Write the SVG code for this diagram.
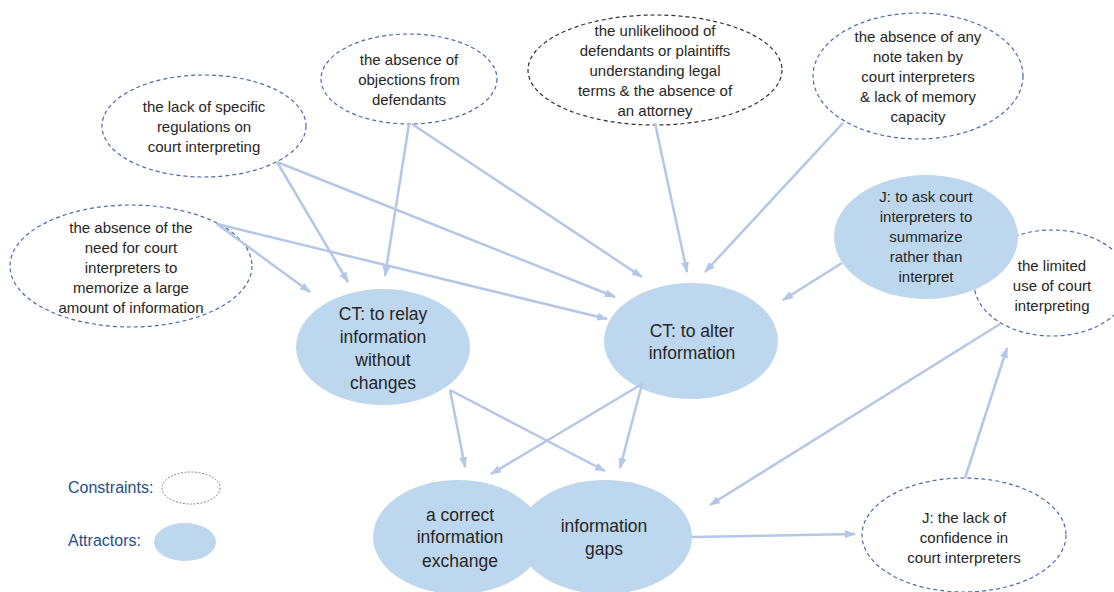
<svg xmlns="http://www.w3.org/2000/svg" width="1114" height="592" viewBox="0 0 1114 592">
<style>
.c{fill:#ffffff;stroke:#4a6cab;stroke-width:1.2;stroke-dasharray:4 3}
.k{fill:#ffffff;stroke:#333333;stroke-width:1.2;stroke-dasharray:4 3}
.a{fill:#bdd7ee;stroke:none}
.t{font-family:"Liberation Sans",Arial,sans-serif;font-size:15px;fill:#262626;text-anchor:middle}
.b{font-family:"Liberation Sans",Arial,sans-serif;font-size:17.5px;fill:#262626;text-anchor:middle}
.l{font-family:"Liberation Sans",Arial,sans-serif;font-size:16px;fill:#1f4e8c}
.e line{stroke:#b4c7e7;stroke-width:2.5;marker-end:url(#ah)}
</style>
<defs>
<marker id="ah" markerWidth="12" markerHeight="10" refX="10" refY="4" orient="auto" markerUnits="userSpaceOnUse">
<path d="M0,0 L11,4 L0,8 Z" fill="#b4c7e7"/>
</marker>
</defs>
<rect width="1114" height="592" fill="#ffffff"/>

<g id="n-limited-use">
<ellipse class="c" cx="1052" cy="283" rx="78" ry="53"/>
<text class="t" x="1052" y="271">the limited</text>
<text class="t" x="1052" y="291">use of court</text>
<text class="t" x="1052" y="311">interpreting</text>
</g>

<g id="n-lack-regulations">
<ellipse class="c" cx="204" cy="126" rx="102" ry="51"/>
<text class="t" x="204" y="112">the lack of specific</text>
<text class="t" x="204" y="132">regulations on</text>
<text class="t" x="204" y="152">court interpreting</text>
</g>

<g id="n-absence-need">
<ellipse class="c" cx="131" cy="266" rx="121" ry="61"/>
<text class="t" x="131" y="233">the absence of the</text>
<text class="t" x="131" y="253">need for court</text>
<text class="t" x="131" y="273">interpreters to</text>
<text class="t" x="131" y="293">memorize a large</text>
<text class="t" x="131" y="313">amount of information</text>
</g>

<g id="n-absence-objections">
<ellipse class="c" cx="409" cy="79" rx="88" ry="45"/>
<text class="t" x="409" y="65">the absence of</text>
<text class="t" x="409" y="85">objections from</text>
<text class="t" x="409" y="105">defendants</text>
</g>

<g id="n-unlikelihood">
<ellipse class="k" cx="655" cy="70" rx="127" ry="55"/>
<text class="t" x="655" y="36">the unlikelihood of</text>
<text class="t" x="655" y="56">defendants or plaintiffs</text>
<text class="t" x="655" y="76">understanding legal</text>
<text class="t" x="655" y="96">terms &amp; the absence of</text>
<text class="t" x="655" y="116">an attorney</text>
</g>

<g id="n-absence-note">
<ellipse class="c" cx="918" cy="76" rx="105" ry="63"/>
<text class="t" x="918" y="42">the absence of any</text>
<text class="t" x="918" y="62">note taken by</text>
<text class="t" x="918" y="82">court interpreters</text>
<text class="t" x="918" y="102">&amp; lack of memory</text>
<text class="t" x="918" y="122">capacity</text>
</g>

<g id="n-j-ask">
<ellipse class="a" cx="926" cy="237" rx="92" ry="62"/>
<text class="t" x="926" y="202">J: to ask court</text>
<text class="t" x="926" y="222">interpreters  to</text>
<text class="t" x="926" y="242">summarize</text>
<text class="t" x="926" y="262">rather than</text>
<text class="t" x="926" y="282">interpret</text>
</g>

<g id="n-ct-relay">
<ellipse class="a" cx="383" cy="347" rx="87" ry="58"/>
<text class="b" x="383" y="320">CT: to relay</text>
<text class="b" x="383" y="343">information</text>
<text class="b" x="383" y="366">without</text>
<text class="b" x="383" y="389">changes</text>
</g>

<g id="n-ct-alter">
<ellipse class="a" cx="691" cy="341" rx="87" ry="58"/>
<text class="b" x="692" y="337">CT: to alter</text>
<text class="b" x="692" y="359">information</text>
</g>

<g id="n-correct-exchange">
<ellipse class="a" cx="458" cy="537" rx="85" ry="57"/>
<text class="b" x="460" y="521">a correct</text>
<text class="b" x="460" y="543">information</text>
<text class="b" x="460" y="567">exchange</text>
</g>

<g id="n-info-gaps">
<ellipse class="a" cx="605" cy="537" rx="87" ry="57"/>
<text class="b" x="604" y="532">information</text>
<text class="b" x="604" y="555">gaps</text>
</g>

<g id="n-j-lack-confidence">
<ellipse class="c" cx="964" cy="535" rx="102" ry="57"/>
<text class="t" x="964" y="523">J: the lack of</text>
<text class="t" x="964" y="543">confidence in</text>
<text class="t" x="964" y="563">court interpreters</text>
</g>

<g id="legend">
<text class="l" x="68" y="493">Constraints:</text>
<ellipse cx="191" cy="488" rx="29" ry="16" fill="#ffffff" stroke="#888888" stroke-width="1" stroke-dasharray="2 1.5"/>
<text class="l" x="68" y="546">Attractors:</text>
<ellipse class="a" cx="185" cy="542" rx="31" ry="19"/>
</g>

<g id="connectors" class="e">
<line x1="277" y1="162" x2="348" y2="282"/>
<line x1="277" y1="162" x2="615" y2="297"/>
<line x1="217" y1="224" x2="310" y2="292"/>
<line x1="217" y1="224" x2="607" y2="319"/>
<line x1="409" y1="124" x2="385" y2="276"/>
<line x1="412" y1="124" x2="642" y2="277"/>
<line x1="655" y1="123" x2="687" y2="272"/>
<line x1="843" y1="123" x2="705" y2="272"/>
<line x1="842" y1="263" x2="783" y2="300"/>
<line x1="450" y1="390" x2="465" y2="467"/>
<line x1="450" y1="390" x2="605" y2="471"/>
<line x1="642" y1="384" x2="491" y2="474"/>
<line x1="642" y1="384" x2="620" y2="468"/>
<line x1="1000" y1="324" x2="710" y2="505"/>
<line x1="965" y1="478" x2="1007" y2="348"/>
<line x1="692" y1="537" x2="855" y2="534"/>
</g>
</svg>
